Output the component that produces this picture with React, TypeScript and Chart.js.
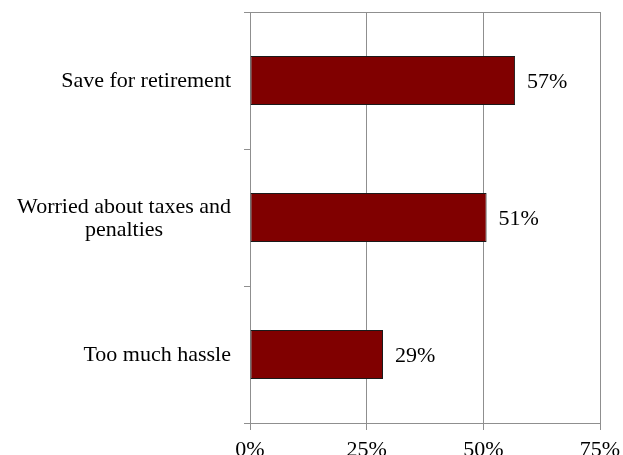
import React, { useEffect, useRef } from "react";
import { Chart, registerables } from "chart.js";

Chart.register(...registerables);

const categories: string[][] = [
  ["Save for retirement"],
  ["Worried about taxes and", "penalties"],
  ["Too much hassle"],
];
const values: number[] = [56.8, 50.7, 28.5];
const valueLabels: string[] = ["57%", "51%", "29%"];
const xTicks: number[] = [0, 25, 50, 75];

const FONT = "'Liberation Serif', 'Times New Roman', serif";
const GRID = "#8f8f8f";

const labelsPlugin = {
  id: "customLabels",
  afterDraw(chart: any) {
    const ctx = chart.ctx;
    const yScale = chart.scales.y;
    const xScale = chart.scales.x;
    const meta = chart.getDatasetMeta(0);
    ctx.save();
    ctx.font = `22px ${FONT}`;
    ctx.fillStyle = "#000";
    ctx.textBaseline = "middle";
    // category labels
    const rightEdge = chart.chartArea.left - 19;
    categories.forEach((lines, i) => {
      const cy = yScale.getPixelForValue(i);
      const widths = lines.map((l) => ctx.measureText(l).width);
      const blockW = Math.max(...widths);
      const cx = rightEdge - blockW / 2;
      const lh = 23;
      const startY = cy - ((lines.length - 1) * lh) / 2 + 1;
      ctx.textAlign = "center";
      lines.forEach((l, j) => ctx.fillText(l, cx, startY + j * lh));
    });
    // value labels
    ctx.textAlign = "left";
    meta.data.forEach((bar: any, i: number) => {
      const x = xScale.getPixelForValue(values[i]) + 12;
      ctx.fillText(valueLabels[i], x, bar.y + 2);
    });
    ctx.restore();
  },
};

export default function App() {
  const ref = useRef<HTMLCanvasElement | null>(null);
  useEffect(() => {
    if (!ref.current) return;
    const chart = new Chart(ref.current, {
      type: "bar",
      data: {
        labels: categories.map((c) => c.join(" ")),
        datasets: [
          {
            data: values,
            backgroundColor: "#800000",
            borderColor: "#1a1a1a",
            borderWidth: 1,
            borderSkipped: false,
            categoryPercentage: 1,
            barPercentage: 0.358,
          },
        ],
      },
      options: {
        indexAxis: "y",
        animation: false,
        responsive: false,
        layout: { padding: { top: 12, right: 23, left: 0, bottom: 0 } },
        plugins: { legend: { display: false }, tooltip: { enabled: false } },
        scales: {
          x: {
            type: "linear",
            min: 0,
            max: 75,
            afterBuildTicks: (scale: any) => {
              scale.ticks = xTicks.map((v) => ({ value: v }));
            },
            afterFit: (scale: any) => {
              scale.height = 32;
              scale.paddingRight = 0;
              scale.paddingLeft = 0;
            },
            ticks: {
              callback: (v: any) => `${v}%`,
              font: { family: FONT, size: 22 },
              color: "#000",
              padding: 7,
              maxRotation: 0,
            },
            grid: { color: GRID, tickLength: 7, drawTicks: true, lineWidth: 1 },
            border: { display: true, color: GRID },
          },
          y: {
            type: "category",
            offset: true,
            afterFit: (scale: any) => {
              scale.width = 250;
            },
            ticks: { display: false },
            grid: {
              offset: true,
              drawTicks: true,
              tickLength: 6,
              color: (c: any) => (c.index === 0 ? GRID : "rgba(0,0,0,0)"),
              tickColor: GRID,
            },
            border: { display: true, color: GRID },
          },
        },
      },
      plugins: [labelsPlugin],
    } as any);
    return () => chart.destroy();
  }, []);
  return (
    <div style={{ position: "fixed", left: 0, top: 0, width: 623, height: 455 }}>
      <canvas ref={ref} width={623} height={455} style={{ width: 623, height: 455 }} />
    </div>
  );
}
